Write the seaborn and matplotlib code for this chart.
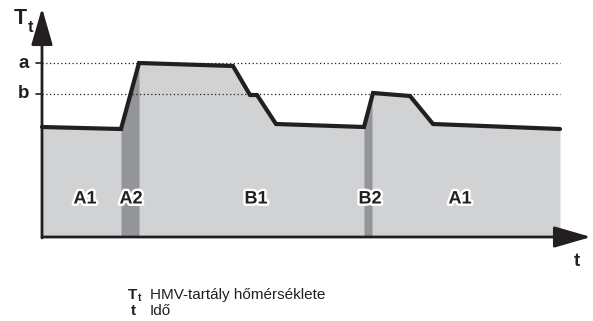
import numpy as np
import pandas as pd
import matplotlib
matplotlib.use("Agg")
import matplotlib.pyplot as plt
import matplotlib.patheffects as pe
import seaborn as sns

# Tank temperature profile over time (arbitrary units)
time = [0, 79, 97, 191, 208, 215, 234, 322, 331, 368, 391, 518]
temp = [110, 108, 174, 171, 142, 142, 113, 110, 144, 141, 113, 108]

# Reference levels
level_names = ["a", "b"]
level_values = [174, 143]

# Heating phases (darker bands) and phase labels
bands = [(79, 97), (322, 330)]
phase_labels = ["A1", "A2", "B1", "B2", "A1"]
phase_x = [43, 89, 214, 328, 418]
phase_y = 38

legend_symbols = ["T", "t"]
legend_texts = ["HMV-tartály hőmérséklete", "Idő"]

sns.set_theme(style="white")
plt.rcParams["font.family"] = ["Liberation Sans", "DejaVu Sans"]

INK = "#231f20"
LIGHT = "#d1d2d4"
DARK = "#939598"

fig = plt.figure(figsize=(5.93, 3.21), dpi=100)
ax = fig.add_axes([0, 0, 1, 1])
ax.set_xlim(-42, 551)
ax.set_ylim(-84, 237)
ax.axis("off")

df = pd.DataFrame({"time": time, "temp": temp})

# light fill under the curve
ax.fill_between(df["time"], 0, df["temp"], color=LIGHT, lw=0, zorder=1)

# darker heating bands, bounded by the curve
for t0, t1 in bands:
    tt = np.linspace(t0, t1, 50)
    ax.fill_between(tt, 0, np.interp(tt, time, temp), color=DARK, lw=0, zorder=2)

# dotted reference levels with ticks and labels
for name, val in zip(level_names, level_values):
    ax.plot([0, time[-1]], [val, val], ls=(0, (1, 2)), lw=0.9, color=INK, zorder=3)
    ax.plot([-6, 0], [val, val], lw=1.2, color=INK, zorder=4)
    ax.text(-18, val, name, ha="center", va="center", fontsize=13.5,
            fontweight="bold", color=INK)

# temperature curve
sns.lineplot(data=df, x="time", y="temp", ax=ax, color=INK, lw=3.0,
             sort=False, zorder=5, solid_joinstyle="miter")
ax.set_xlabel("")
ax.set_ylabel("")

# axes with arrowheads
ax.annotate("", xy=(549, 0), xytext=(0, 0),
            arrowprops=dict(arrowstyle="-|>,head_length=1.9,head_width=0.55",
                            color=INK, lw=2.0, shrinkA=0, shrinkB=0), zorder=6)
ax.annotate("", xy=(0, 229), xytext=(0, -1),
            arrowprops=dict(arrowstyle="-|>,head_length=1.9,head_width=0.55",
                            color=INK, lw=2.0, shrinkA=0, shrinkB=0), zorder=6)

# axis titles
ax.text(-22, 219, "T", ha="center", va="center", fontsize=15.5,
        fontweight="bold", color=INK)
ax.text(-11, 210, "t", ha="center", va="center", fontsize=12,
        fontweight="bold", color=INK)
ax.text(535, -25, "t", ha="center", va="center", fontsize=13.5,
        fontweight="bold", color=INK)

# phase labels with white outline
for lab, x in zip(phase_labels, phase_x):
    ax.text(x, phase_y, lab, ha="center", va="center", fontsize=13,
            fontweight="bold", color=INK,
            path_effects=[pe.withStroke(linewidth=3.5, foreground="white")],
            zorder=7)

# legend below the chart
leg_y = [-58, -74]
ax.text(91, leg_y[0], legend_symbols[0], ha="center", va="center",
        fontsize=11, fontweight="bold", color=INK)
ax.text(98, leg_y[0] - 3, "t", ha="center", va="center",
        fontsize=7.5, fontweight="bold", color=INK)
ax.text(91, leg_y[1], legend_symbols[1], ha="center", va="center",
        fontsize=11, fontweight="bold", color=INK)
for txt, y in zip(legend_texts, leg_y):
    ax.text(108, y, txt, ha="left", va="center", fontsize=11, color=INK)

fig.savefig("out.png", dpi=100)
